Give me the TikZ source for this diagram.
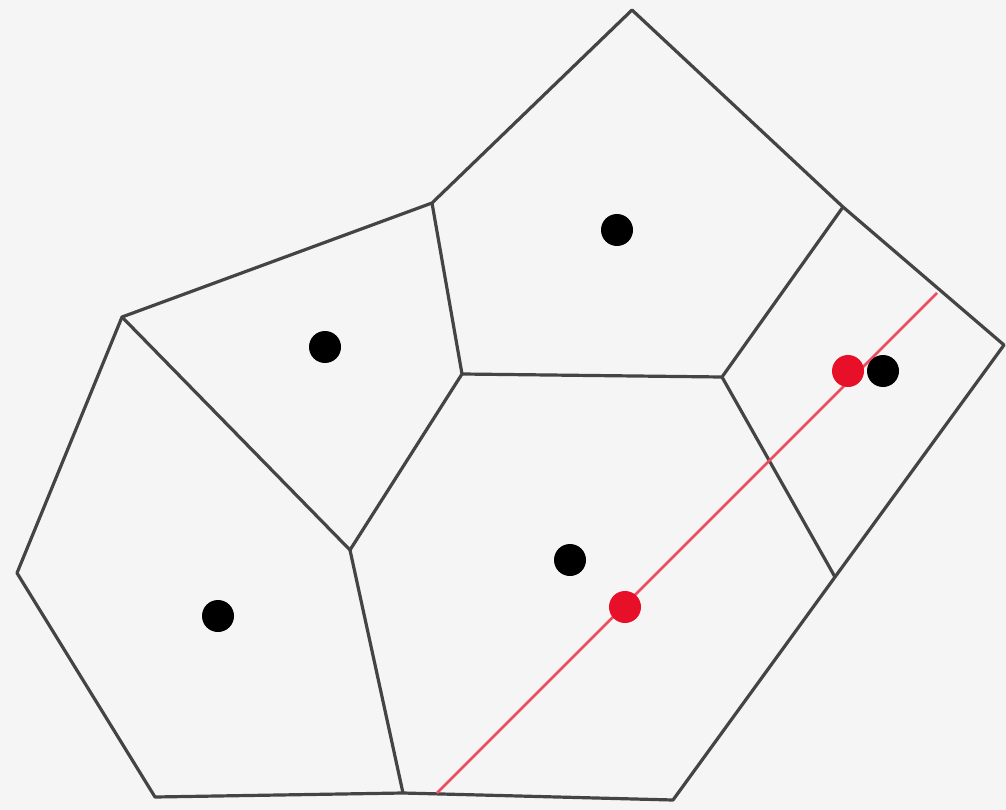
\documentclass[tikz,border=0pt]{standalone}
\usetikzlibrary{positioning}
\definecolor{paper}{RGB}{245,245,245}
\definecolor{edgegray}{RGB}{68,68,68}
\definecolor{sitered}{RGB}{232,16,40}

\begin{document}
\begin{tikzpicture}[x=1pt,y=-1pt,edge/.style={draw=edgegray, line width=3.2pt, line join=round},site/.style={circle, fill=black, inner sep=0pt, minimum size=32pt},hit/.style={circle, fill=sitered, inner sep=0pt, minimum size=32pt},ray/.style={sitered!75, line width=2.6pt}]
\fill[paper] (0,0) rectangle (1006,810);
\useasboundingbox (0,0) rectangle (1006,810);
% vertices
\coordinate (top) at (632,10);\coordinate (tr) at (843,207);\coordinate (right) at (1004,345);
\coordinate (br) at (835,577);\coordinate (bbr) at (673,800);\coordinate (bm) at (403,793);
\coordinate (bl) at (155,797);\coordinate (left) at (17,573);\coordinate (tl) at (122,317);
\coordinate (tm) at (432,203);\coordinate (cl) at (462,374);\coordinate (cr) at (722,377);
\coordinate (ml) at (350,550);
\coordinate (rayA) at (937,293);\coordinate (rayB) at (437,793);
% outer boundary
\draw[edge] (top) -- (tr) -- (right) -- (br) -- (bbr) -- (bm) -- (bl) -- (left) -- (tl) -- (tm) -- cycle;
% inner edges
\draw[edge] (tm) -- (cl) -- (cr) -- (tr);\draw[edge] (cr) -- (br);
\draw[edge] (cl) -- (ml) -- (bm);\draw[edge] (tl) -- (ml);
% line through the diagram
\draw[ray] (rayA) -- (rayB);
% sites
\node[site] (s1) at (617,230) {};\node[site] (s2) at (325,347) {};
\node[site] (s3) at (883,371) {};\node[site] (s4) at (570,560) {};
\node[site] (s5) at (218,616) {};
\node[hit] (h1) at (848,371) {};\node[hit] (h2) at (625,607) {};
\end{tikzpicture}
\end{document}
